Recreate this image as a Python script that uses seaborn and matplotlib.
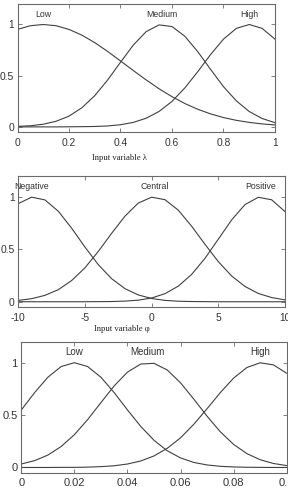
import matplotlib
matplotlib.use("Agg")
import matplotlib.pyplot as plt
import seaborn as sns
import numpy as np
import pandas as pd

# ---------------- data ----------------
# Panel 1: input variable lambda
lam_x = [0.00, 0.05, 0.10, 0.15, 0.20, 0.25, 0.30, 0.35, 0.40, 0.45, 0.50,
         0.55, 0.60, 0.65, 0.70, 0.75, 0.80, 0.85, 0.90, 0.95, 1.00]
lam_low = [0.952, 0.988, 1.000, 0.988, 0.952, 0.896, 0.823, 0.737, 0.644, 0.550, 0.458,
           0.372, 0.295, 0.228, 0.172, 0.127, 0.091, 0.064, 0.044, 0.029, 0.019]
lam_medium = [0.005, 0.011, 0.026, 0.055, 0.105, 0.187, 0.305, 0.458, 0.631, 0.800, 0.931,
              0.996, 0.980, 0.885, 0.735, 0.561, 0.393, 0.254, 0.150, 0.082, 0.041]
lam_high = [0.000, 0.000, 0.000, 0.000, 0.001, 0.002, 0.004, 0.009, 0.021, 0.044, 0.085,
            0.151, 0.249, 0.381, 0.539, 0.707, 0.857, 0.962, 1.000, 0.962, 0.857]
lam_names = ["Low", "Medium", "High"]
lam_label_x = [0.10, 0.56, 0.90]

# Panel 2: input variable phi
phi_x = [-10, -9, -8, -7, -6, -5, -4, -3, -2, -1, 0, 1, 2, 3, 4, 5, 6, 7, 8, 9, 10]
phi_negative = [0.937, 0.998, 0.972, 0.864, 0.702, 0.522, 0.354, 0.220, 0.125, 0.065, 0.031,
                0.013, 0.005, 0.002, 0.001, 0.000, 0.000, 0.000, 0.000, 0.000, 0.000]
phi_central = [0.013, 0.029, 0.061, 0.115, 0.202, 0.324, 0.480, 0.653, 0.817, 0.942, 0.998,
               0.974, 0.874, 0.721, 0.548, 0.383, 0.246, 0.146, 0.079, 0.040, 0.018]
phi_positive = [0.000, 0.000, 0.000, 0.000, 0.000, 0.000, 0.001, 0.002, 0.006, 0.015, 0.036,
                0.077, 0.149, 0.261, 0.414, 0.597, 0.781, 0.927, 0.997, 0.973, 0.861]
phi_names = ["Negative", "Central", "Positive"]
phi_label_x = [-9.0, 0.25, 8.2]

# Panel 3: third input variable
v3_x = [0.000, 0.005, 0.010, 0.015, 0.020, 0.025, 0.030, 0.035, 0.040, 0.045, 0.050,
        0.055, 0.060, 0.065, 0.070, 0.075, 0.080, 0.085, 0.090, 0.095, 0.100]
v3_low = [0.549, 0.714, 0.861, 0.963, 1.000, 0.963, 0.861, 0.714, 0.549, 0.392, 0.259,
          0.159, 0.091, 0.048, 0.024, 0.011, 0.005, 0.002, 0.001, 0.000, 0.000]
v3_medium = [0.033, 0.065, 0.118, 0.200, 0.313, 0.457, 0.619, 0.779, 0.910, 0.987, 0.994,
             0.930, 0.808, 0.652, 0.489, 0.340, 0.220, 0.132, 0.074, 0.038, 0.018]
v3_high = [0.000, 0.000, 0.000, 0.001, 0.001, 0.003, 0.008, 0.016, 0.033, 0.062, 0.110,
           0.183, 0.283, 0.412, 0.561, 0.715, 0.853, 0.954, 0.999, 0.979, 0.899]
v3_names = ["Low", "Medium", "High"]
v3_label_x = [0.020, 0.0476, 0.090]

# tick values / labels
lam_ticks = [0, 0.2, 0.4, 0.6, 0.8, 1]
lam_ticklabels = ["0", "0.2", "0.4", "0.6", "0.8", "1"]
phi_ticks = [-10, -5, 0, 5, 10]
phi_ticklabels = ["-10", "-5", "0", "5", "10"]
v3_ticks = [0, 0.02, 0.04, 0.06, 0.08, 0.1]
v3_ticklabels = ["0", "0.02", "0.04", "0.06", "0.08", "0.1"]
y_ticks = [0, 0.5, 1]
y_ticklabels = ["0", "0.5", "1"]

# ---------------- styling ----------------
sns.set_style("ticks")
plt.rcParams["font.family"] = ["Liberation Sans", "DejaVu Sans"]

LINE = "#404040"
FRAME = "#6a6a6a"
TEXT = "#333333"

fig = plt.figure(figsize=(2.88, 4.90), dpi=100)

panels = [
    dict(pos=[0.0608, 0.7306, 0.894, 0.2612], x=lam_x,
         ys=[lam_low, lam_medium, lam_high], names=lam_names, lx=lam_label_x,
         xlim=(0, 1), ticks=lam_ticks, tl=lam_ticklabels, fs=7.4, lfs=6.3,
         xlabel="Input variable λ", xlc=(0.394, -0.175)),
    dict(pos=[0.0635, 0.3735, 0.926, 0.2673], x=phi_x,
         ys=[phi_negative, phi_central, phi_positive], names=phi_names, lx=phi_label_x,
         xlim=(-10, 10), ticks=phi_ticks, tl=phi_ticklabels, fs=7.4, lfs=6.3,
         xlabel="Input variable φ", xlc=(0.389, -0.135)),
    dict(pos=[0.0740, 0.0353, 0.9215, 0.2673], x=v3_x,
         ys=[v3_low, v3_medium, v3_high], names=v3_names, lx=v3_label_x,
         xlim=(0, 0.1), ticks=v3_ticks, tl=v3_ticklabels, fs=8.0, lfs=7.0,
         xlabel=None, xlc=None),
]

for p in panels:
    ax = fig.add_axes(p["pos"])
    for name, yv in zip(p["names"], p["ys"]):
        df = pd.DataFrame({"x": p["x"], "y": yv})
        sns.lineplot(data=df, x="x", y="y", ax=ax, color=LINE, linewidth=0.8,
                     estimator=None, sort=False, legend=False)
    for name, lx in zip(p["names"], p["lx"]):
        ax.text(lx, 1.1, name, ha="center", va="center", fontsize=p["lfs"],
                color=TEXT, clip_on=False)
    ax.set_xlim(*p["xlim"])
    ax.set_ylim(-0.05, 1.2)
    ax.set_xticks(p["ticks"])
    ax.set_xticklabels(p["tl"])
    ax.set_yticks(y_ticks)
    ax.set_yticklabels(y_ticklabels)
    ax.tick_params(axis="both", direction="in", length=3, width=0.6, color=FRAME,
                   labelcolor=TEXT, labelsize=p["fs"], top=True, right=True)
    ax.tick_params(axis="x", pad=4)
    ax.tick_params(axis="y", pad=2.5)
    for s in ax.spines.values():
        s.set_visible(True)
        s.set_color(FRAME)
        s.set_linewidth(0.8)
    if p["xlabel"]:
        ax.set_xlabel(p["xlabel"], family=["Liberation Serif", "DejaVu Serif"],
                      fontsize=6.2, color="#222222")
        ax.xaxis.set_label_coords(*p["xlc"])
    else:
        ax.set_xlabel("")
    ax.set_ylabel("")

fig.savefig("out.png", dpi=100)
